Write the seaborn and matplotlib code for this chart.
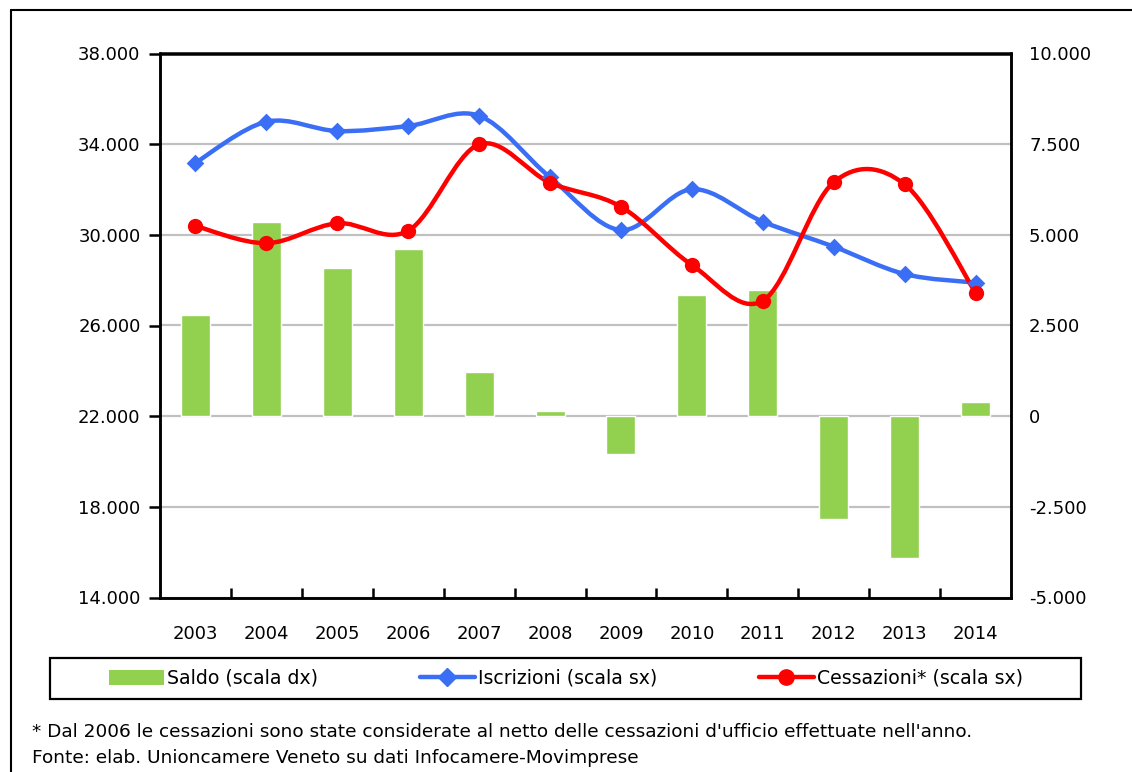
import numpy as np
import matplotlib.pyplot as plt
import seaborn as sns
from matplotlib.lines import Line2D
from matplotlib.patches import Patch, PathPatch, Rectangle
from matplotlib.path import Path
from matplotlib.ticker import FixedLocator, FuncFormatter

years = ["2003", "2004", "2005", "2006", "2007", "2008",
         "2009", "2010", "2011", "2012", "2013", "2014"]
iscrizioni = [33180, 34990, 34580, 34800, 35250, 32540,
              30210, 32010, 30580, 29480, 28270, 27890]
cessazioni = [30390, 29630, 30510, 30180, 33990, 32300,
              31240, 28670, 27090, 32320, 32230, 27450]
saldo = [2790, 5350, 4090, 4610, 1220, 140,
         -1040, 3340, 3480, -2840, -3910, 390]

left_ticks = [14000, 18000, 22000, 26000, 30000, 34000, 38000]
right_ticks = [-5000, -2500, 0, 2500, 5000, 7500, 10000]

labels = ["Saldo (scala dx)", "Iscrizioni (scala sx)", "Cessazioni* (scala sx)"]
note = "* Dal 2006 le cessazioni sono state considerate al netto delle cessazioni d'ufficio effettuate nell'anno."
source = "Fonte: elab. Unioncamere Veneto su dati Infocamere-Movimprese"

GREEN = "#92D050"
BLUE = "#3A6EF5"
RED = "#FF0000"
GRID = "#C0C0C0"

sns.set_theme(style="white")
plt.rcParams["font.family"] = ["DejaVu Sans"]
plt.rcParams["font.size"] = 13
for key in ["text.color", "axes.labelcolor", "xtick.color", "ytick.color"]:
    plt.rcParams[key] = "black"


def it_fmt(v, _pos=None):
    return f"{v:,.0f}".replace(",", ".")


def smooth_path(xs, ys):
    # bezier curve like the Excel "smoothed line" option
    pts = np.column_stack([xs, ys]).astype(float)
    n = len(pts)
    verts = [pts[0]]
    codes = [Path.MOVETO]
    for i in range(n - 1):
        p0 = pts[i - 1] if i > 0 else pts[i]
        p1, p2 = pts[i], pts[i + 1]
        p3 = pts[i + 2] if i + 2 < n else pts[i + 1]
        verts += [p1 + (p2 - p0) / 6, p2 - (p3 - p1) / 6, p2]
        codes += [Path.CURVE4] * 3
    return Path(verts, codes)


fig = plt.figure(figsize=(11.32, 7.72), dpi=100)
ax = fig.add_axes([160 / 1132, 1 - 597.5 / 772, 851 / 1132, 544 / 772])
ax2 = ax.twinx()

# bars on the right scale, behind the lines
sns.barplot(x=years, y=saldo, ax=ax2, color=GREEN, saturation=1,
            width=0.41, zorder=2)
ax2.set_ylim(-5000, 10000)
ax2.yaxis.set_major_locator(FixedLocator(right_ticks))
ax2.yaxis.set_major_formatter(FuncFormatter(it_fmt))
ax2.grid(axis="y", color=GRID, linewidth=1.6, zorder=0)
ax2.set_axisbelow(True)
ax2.tick_params(axis="y", length=0, pad=13, labelsize=13, colors="black")

xpos = np.arange(len(years))
for series, color, marker, ms in [(iscrizioni, BLUE, "D", 9),
                                  (cessazioni, RED, "o", 11)]:
    ax.add_patch(PathPatch(smooth_path(xpos, series), facecolor="none",
                           edgecolor=color, linewidth=3.2,
                           capstyle="round", joinstyle="round", zorder=3))
    sns.scatterplot(x=xpos, y=series, ax=ax, color=color, marker=marker,
                    s=ms ** 2, linewidth=0, zorder=4)

ax.set_zorder(ax2.get_zorder() + 1)
ax.patch.set_visible(False)
ax.set_ylim(14000, 38000)
ax.set_xlim(-0.5, len(years) - 0.5)
ax.yaxis.set_major_locator(FixedLocator(left_ticks))
ax.yaxis.set_major_formatter(FuncFormatter(it_fmt))
ax.tick_params(axis="y", length=8, width=1.8, direction="out", pad=6,
               labelsize=13, colors="black", left=True)
ax.set_xticks(xpos)
ax.set_xticklabels(years)
ax.set_xticks(xpos[:-1] + 0.5, minor=True)
ax.tick_params(axis="x", which="major", length=0, pad=20, labelsize=13,
               colors="black")
ax.tick_params(axis="x", which="minor", length=7, width=1.8,
               direction="in", bottom=True, colors="black")
ax2.set_xlim(-0.5, len(years) - 0.5)
ax2.set_xlabel("")
ax.set_xlabel("")
ax.set_ylabel("")
ax2.set_ylabel("")
for a in (ax, ax2):
    for sp in a.spines.values():
        sp.set_color("black")
        sp.set_linewidth(1.8)
        sp.set_visible(True)

# legend box and entries
fig.add_artist(Rectangle((50 / 1132, 1 - 699 / 772), 1031 / 1132, 41 / 772,
                         transform=fig.transFigure, facecolor="white",
                         edgecolor="black", linewidth=1.6))
handles = [
    Patch(facecolor=GREEN, edgecolor="none"),
    Line2D([], [], color=BLUE, linewidth=3.2, marker="D", markersize=9),
    Line2D([], [], color=RED, linewidth=3.2, marker="o", markersize=11),
]
fig.legend(handles, labels, loc="center", ncol=3, frameon=False,
           bbox_to_anchor=(566 / 1132, 1 - 678.5 / 772), fontsize=13.6,
           handlelength=2.9, handleheight=0.85, handletextpad=0.15,
           columnspacing=5.4)

# outer frame (right and bottom edges fall outside the image)
fig.add_artist(Line2D([11 / 1132, 1.0], [1 - 10 / 772] * 2,
                      transform=fig.transFigure, color="black", linewidth=1.5))
fig.add_artist(Line2D([11 / 1132] * 2, [0.0, 1 - 10 / 772],
                      transform=fig.transFigure, color="black", linewidth=1.5))

fig.text(32 / 1132, 1 - 732 / 772, note, fontsize=13.3, va="center", ha="left")
fig.text(32 / 1132, 1 - 758 / 772, source, fontsize=13.3, va="center", ha="left")

fig.savefig("out.png", dpi=100)
